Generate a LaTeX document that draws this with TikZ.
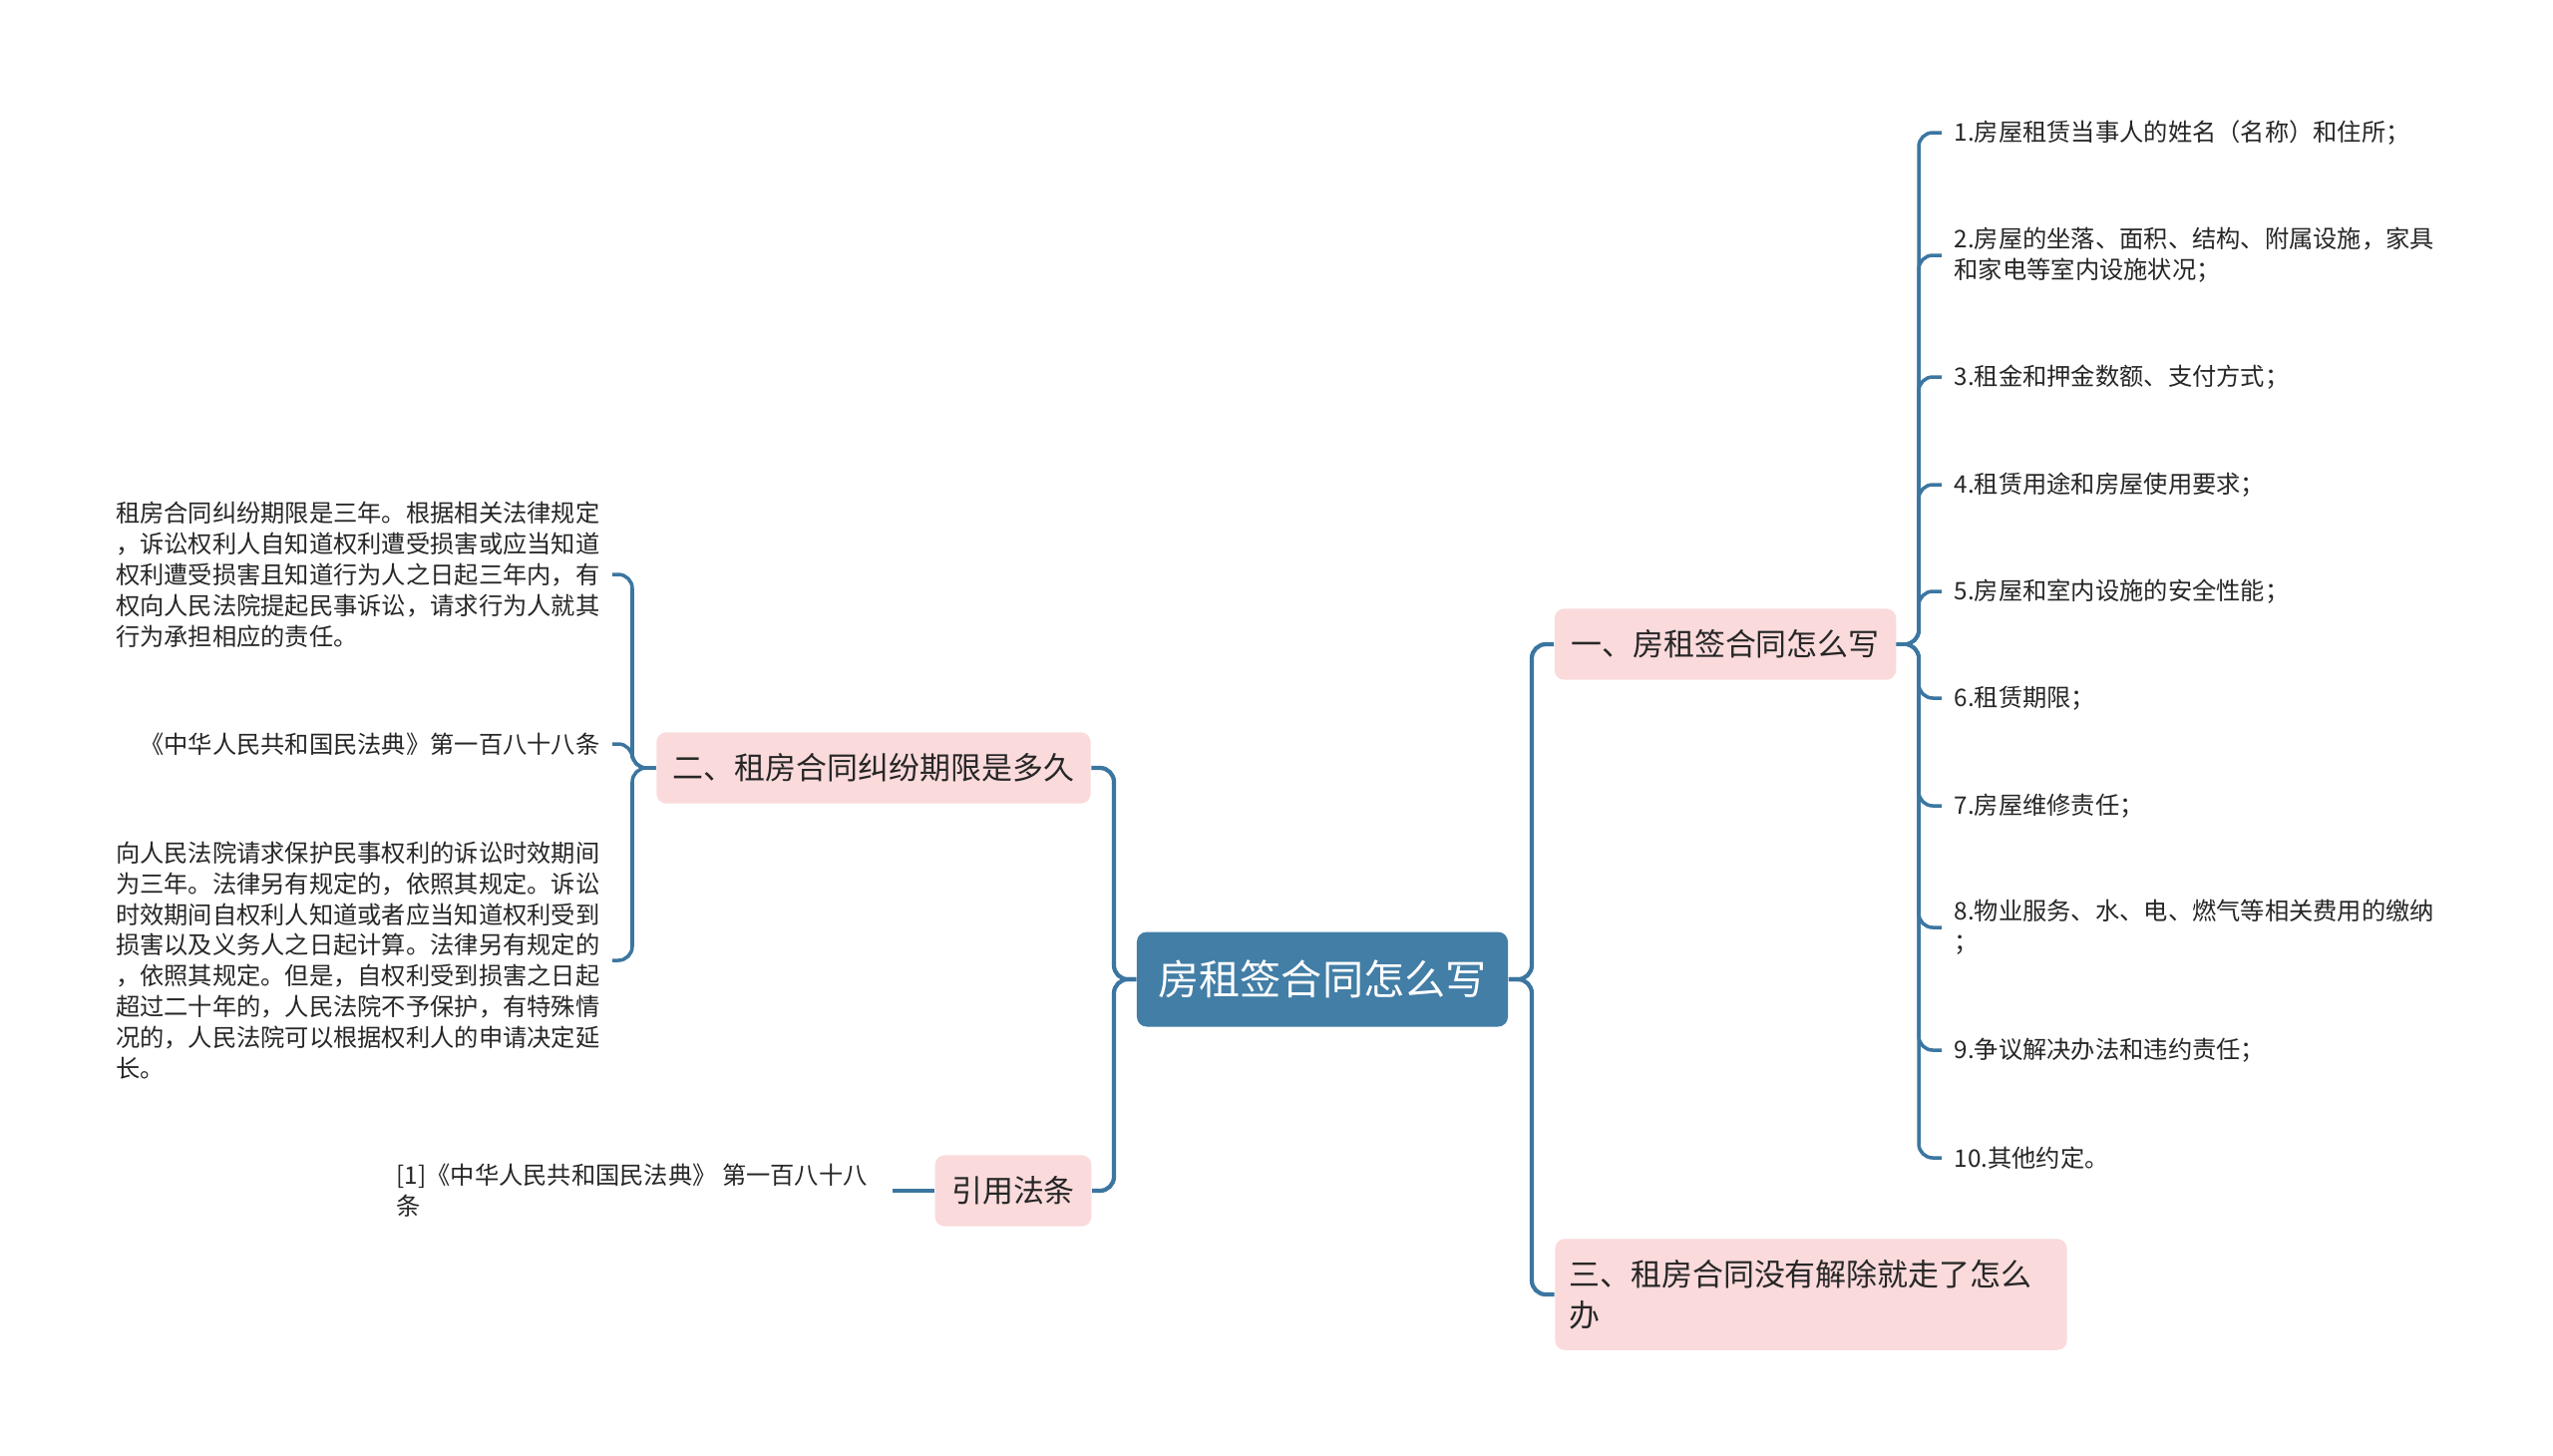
\documentclass[tikz,border=0pt]{standalone}
\usepackage{fontspec}
\setmainfont{Noto Sans CJK SC}
\definecolor{rootblue}{RGB}{66,126,166}
\definecolor{linkblue}{RGB}{60,118,160}
\definecolor{topicpink}{RGB}{250,218,219}
\definecolor{inkgray}{RGB}{38,38,38}
\tikzset{
  rootbox/.style={fill=rootblue,rounded corners=2.8pt,text=white,font=\fontsize{11.7pt}{14pt}\selectfont,inner xsep=6.1pt,minimum height=27pt},
  topicbox/.style={fill=topicpink,rounded corners=2.8pt,text=inkgray,font=\fontsize{8.8pt}{11.7pt}\selectfont,inner xsep=4.7pt,minimum height=20.3pt},
  leaftext/.style={text=inkgray,font=\fontsize{6.9pt}{8.8pt}\selectfont,inner xsep=3.4pt,inner ysep=2pt,align=left},
  mainlink/.style={draw=linkblue,line width=1.2pt,rounded corners=4pt},
  leaflink/.style={draw=linkblue,line width=1pt,rounded corners=4pt},
}

\begin{document}
\begin{tikzpicture}[x=0.01cm,y=-0.01cm]
\useasboundingbox (0,0) rectangle (2560,1459);

\node[rootbox] (root) at (1326,982) {房租签合同怎么写};
\node[topicbox] (t1) at (1730,646) {一、房租签合同怎么写};
\node[topicbox] (t2) at (876,770) {二、租房合同纠纷期限是多久};
\node[topicbox] (tref) at (1016,1194) {引用法条};
\node[topicbox,align=left,text width=138pt,inner xsep=4pt,inner ysep=5.9pt] (t3) at (1816,1298) {三、租房合同没有解除就走了怎么\\办};

\coordinate (rj) at (1536,982);
\coordinate (lj) at (1117,982);
\coordinate (j1) at (1924,646);
\coordinate (j2) at (634,770);

\draw[mainlink] (root.east) -- (rj) |- (t1.west);
\draw[mainlink] (root.east) -- (rj) |- (t3.west);
\draw[mainlink] (root.west) -- (lj) |- (t2.east);
\draw[mainlink] (root.west) -- (lj) |- (tref.east);

\node[leaftext,anchor=west] (r1) at (1947,133) {1.房屋租赁当事人的姓名（名称）和住所；};
\node[leaftext,anchor=west] (r2) at (1947,256) {2.房屋的坐落、面积、结构、附属设施，家具\\和家电等室内设施状况；};
\node[leaftext,anchor=west] (r3) at (1947,378) {3.租金和押金数额、支付方式；};
\node[leaftext,anchor=west] (r4) at (1947,486) {4.租赁用途和房屋使用要求；};
\node[leaftext,anchor=west] (r5) at (1947,593) {5.房屋和室内设施的安全性能；};
\node[leaftext,anchor=west] (r6) at (1947,700) {6.租赁期限；};
\node[leaftext,anchor=west] (r7) at (1947,808) {7.房屋维修责任；};
\node[leaftext,anchor=west] (r8) at (1947,930) {8.物业服务、水、电、燃气等相关费用的缴纳\\；};
\node[leaftext,anchor=west] (r9) at (1947,1053) {9.争议解决办法和违约责任；};
\node[leaftext,anchor=west] (r10) at (1947,1161) {10.其他约定。};

\foreach \n in {r1,r2,r3,r4,r5,r6,r7,r8,r9,r10}
  \draw[leaflink] (t1.east) -- (j1) |- (\n.west);

\node[leaftext,anchor=east] (la) at (614,576) {租房合同纠纷期限是三年。根据相关法律规定\\，诉讼权利人自知道权利遭受损害或应当知道\\权利遭受损害且知道行为人之日起三年内，有\\权向人民法院提起民事诉讼，请求行为人就其\\行为承担相应的责任。};
\node[leaftext,anchor=east] (lb) at (614,746) {《中华人民共和国民法典》第一百八十八条};
\node[leaftext,anchor=east] (lc) at (614,963) {向人民法院请求保护民事权利的诉讼时效期间\\为三年。法律另有规定的，依照其规定。诉讼\\时效期间自权利人知道或者应当知道权利受到\\损害以及义务人之日起计算。法律另有规定的\\，依照其规定。但是，自权利受到损害之日起\\超过二十年的，人民法院不予保护，有特殊情\\况的，人民法院可以根据权利人的申请决定延\\长。};

\foreach \n in {la,lb,lc}
  \draw[leaflink] (t2.west) -- (j2) |- (\n.east);

\node[leaftext,anchor=east,inner xsep=7pt] (ld) at (895,1194) {[1]《中华人民共和国民法典》 第一百八十八\\条};
\draw[leaflink] (tref.west) -- (ld.east);
\end{tikzpicture}
\end{document}
